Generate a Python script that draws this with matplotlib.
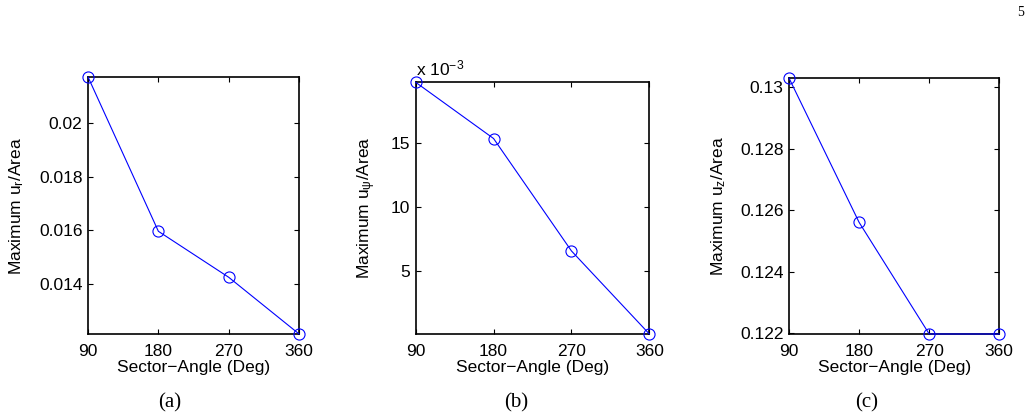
import numpy as np
import matplotlib
matplotlib.use("Agg")
import matplotlib.pyplot as plt

plt.rcParams['font.family'] = ['Liberation Sans', 'DejaVu Sans']
plt.rcParams['mathtext.fontset'] = 'custom'
plt.rcParams['mathtext.rm'] = 'Liberation Sans'
plt.rcParams['mathtext.it'] = 'Liberation Sans'
plt.rcParams['mathtext.bf'] = 'Liberation Sans'

# data
angles = [90, 180, 270, 360]
ur_area = [0.02173, 0.01596, 0.01424, 0.01212]
upsi_area = [19.75e-3, 15.35e-3, 6.55e-3, 0.05e-3]
uz_area = [0.1303, 0.12561, 0.12198, 0.12198]

ylabels = ['Maximum u$_{\\mathrm{r}}$/Area', 'Maximum u$_{\\psi}$/Area', 'Maximum u$_{\\mathrm{z}}$/Area']
captions = ['(a)', '(b)', '(c)']

fig = plt.figure(figsize=(10.32, 4.18), dpi=100)

# axes boxes in figure fractions
boxes = [[0.0853, 0.2010, 0.2045, 0.6148],
         [0.4028, 0.2010, 0.2264, 0.6021],
         [0.7645, 0.2010, 0.2038, 0.6124]]
label_x = [-0.294, -0.161, -0.29]
caption_x = [170 / 1032, 516 / 1032, 867 / 1032]

series = [ur_area, np.array(upsi_area) * 1e3, uz_area]
yticks = [[0.014, 0.016, 0.018, 0.02],
          [5, 10, 15],
          [0.122, 0.124, 0.126, 0.128, 0.13]]
yticklabels = [['0.014', '0.016', '0.018', '0.02'],
               ['5', '10', '15'],
               ['0.122', '0.124', '0.126', '0.128', '0.13']]

for i in range(3):
    ax = fig.add_axes(boxes[i])
    y = series[i]
    ax.plot(angles, y, '-o', color='#0000ff', lw=0.8, ms=8, mfc='none', mew=0.8, clip_on=False, zorder=5)
    ax.set_xlim(90, 360)
    ax.set_ylim(min(y), max(y))
    ax.set_xticks(angles)
    ax.set_yticks(yticks[i])
    ax.set_yticklabels(yticklabels[i])
    ax.tick_params(direction='in', top=True, right=True, length=3.5, width=0.8, labelsize=12.5, pad=4)
    ax.tick_params(axis='x', pad=7)
    for s in ax.spines.values():
        s.set_linewidth(1.2)
    ax.set_xlabel('Sector\u2212Angle (Deg)', fontsize=12.5, labelpad=1)
    ax.set_ylabel(ylabels[i], fontsize=12.5)
    ax.yaxis.set_label_coords(label_x[i], 0.5)
    fig.text(caption_x[i], 1 - 403 / 418, captions[i], family='Liberation Serif', fontsize=15, ha='center', va='center')

# scale factor on panel (b)
fig.axes[1].text(0.0, 1.015, 'x 10$^{\\mathrm{-3}}$', transform=fig.axes[1].transAxes, fontsize=12.5, ha='left', va='bottom')

fig.text(1021 / 1032, 1 - 12 / 418, '5', family='Liberation Serif', fontsize=10, ha='center', va='center')

fig.savefig('out.png', dpi=100)
